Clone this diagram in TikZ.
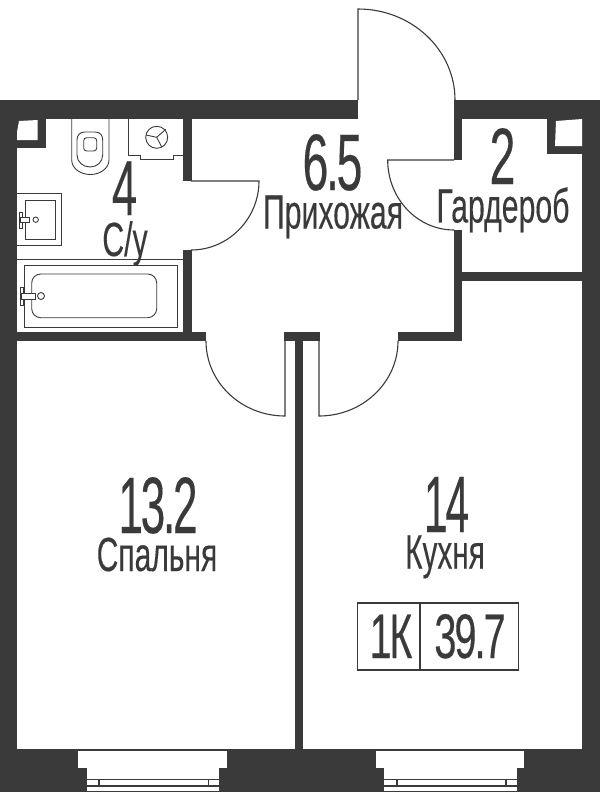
\documentclass[tikz,border=0pt]{standalone}
\usepackage{fontspec}
\setmainfont{Liberation Sans}
\newfontfamily\numfont[LetterSpace=-5,FakeBold=0.35]{Liberation Sans}
\newfontfamily\wordfont[FakeBold=0.25]{Liberation Sans}
\definecolor{wallc}{HTML}{3A3A3A}
\newcommand{\lbl}[3]{\scalebox{#1}[1]{\fontsize{#2}{#2}\selectfont\wordfont #3}}
\newcommand{\num}[3]{\scalebox{#1}[1]{\fontsize{#2}{#2}\selectfont\numfont #3}}
\tikzset{
  wall/.style={fill=wallc,draw=none},
  thin line/.style={draw=wallc,line width=1.1pt},
  fine line/.style={draw=wallc,line width=0.9pt},
  win line/.style={draw=wallc,line width=1.4pt},
  holew/.style={fill=white,draw=none},
  txt/.style={text=wallc,inner sep=0pt,anchor=base}
}
\begin{document}
\begin{tikzpicture}[x=1pt,y=-1pt]
\useasboundingbox (0,0) rectangle (600,800);
% walls
\fill[wall] (0,100) rectangle (358,119);
\fill[wall] (455,100) rectangle (600,119);
\fill[wall] (0,100) rectangle (17,792);
\fill[wall] (582,100) rectangle (600,792);
\fill[wall] (0,749) rectangle (600,792);
\fill[wall] (183,119) rectangle (191.5,181);
\fill[wall] (183,250) rectangle (191.5,341);
\fill[wall] (17,332) rectangle (206,340.5);
\fill[wall] (284,332) rectangle (320,340.5);
\fill[wall] (295,340) rectangle (303,749);
\fill[wall] (398,332) rectangle (462,340.5);
\fill[wall] (454,100) rectangle (462,160);
\fill[wall] (454,230) rectangle (462,340);
\fill[wall] (462,272) rectangle (582,281);
% shafts
\fill[wall] (17,119) rectangle (45.7,148);
\fill[holew] (19,121) -- (37.5,120) -- (37.5,140) -- (17,140) -- (17,132) -- cycle;
\fill[wall] (547.3,119) rectangle (582,154);
\fill[holew] (556,121) -- (582,119) -- (582,146) -- (555,146) -- cycle;
% doors
\draw[thin line] (358,100) -- (358,9) .. controls (411.6,9) and (455,49.7) .. (455,100);
\draw[thin line] (454,160) -- (387.7,160) .. controls (387.7,198.7) and (417.4,230) .. (454,230);
\draw[thin line] (191,181) -- (259,181) .. controls (259,218.6) and (228.6,250) .. (191,250);
\draw[thin line] (206,341) .. controls (206,382.4) and (241.4,416) .. (285,416) -- (285,341);
\draw[thin line] (319,341) -- (319,416) .. controls (362.6,416) and (398,382.4) .. (398,341);
% toilet
\draw[fine line] (71.7,119) -- (71.7,160) .. controls (71.7,168) and (80,174.5) .. (90.3,174.5) .. controls (100.6,174.5) and (109,168) .. (109,160) -- (109,119);
\draw[fine line] (77,140) .. controls (77,135) and (80,132) .. (85,132) -- (95,132) .. controls (100,132) and (102.7,135) .. (102.7,140) -- (102.7,155) .. controls (102.7,162) and (97,167) .. (90,167) .. controls (83,167) and (77,162) .. (77,155) -- cycle;
\draw[fine line,rounded corners=3pt] (83.7,137.7) rectangle (96.7,151);
% washer
\draw[fine line] (128.7,119) -- (128.7,155.7) -- (140.7,155.7) -- (140.7,159) -- (173,159) -- (173,155.7) -- (183,155.7);
\draw[fine line] (156.7,137.3) circle[radius=11];
\draw[fine line] (156.7,137.3) -- (146,135) (156.7,137.3) -- (165.7,129.3) (156.7,137.3) -- (161.7,146.9);
% sink
\draw[fine line] (17,193) -- (61,193) -- (61,245.7) -- (17,245.7);
\draw[fine line] (25.7,200) rectangle (55.7,239);
\draw[fine line,fill=white] (19,212) rectangle (22,228);
\draw[fine line,fill=white] (20,217) rectangle (29,222);
\draw[fine line] (35.7,219.7) circle[radius=2.7];
% bath
\draw[fine line] (17,259) -- (183,259);
\draw[fine line] (24,265.7) rectangle (177.3,327);
\draw[fine line,rounded corners=9pt] (31.7,274) rectangle (156.7,317.7);
\draw[fine line,fill=white] (20,287) rectangle (23,305);
\draw[fine line,fill=white] (21,293) rectangle (35,299);
\draw[fine line] (41,296) circle[radius=3.5];
% windows
\foreach \wx in {78.3,376}{
  \fill[holew] (\wx,750.7) rectangle (\wx+148.4,767.5);
  \fill[holew] (\wx+8.4,767) rectangle (\wx+140.6,791);
  \draw[win line] (\wx+8.4,779.6) -- (\wx+140.6,779.6);
  \draw[win line] (\wx+8.4,786) -- (\wx+140.6,786);
  \draw[win line] (\wx+20.8,779.6) -- (\wx+20.8,786);
  \draw[win line] (\wx+130,779.6) -- (\wx+130,786);
}
% labels
\node[txt] (n4) at (124.5,215) {\num{0.58}{78}{4}};
\node[txt] (su) at (125,256) {\lbl{0.63}{48}{С/у}};
\node[txt] (n65) at (332.5,190) {\num{0.58}{80}{6.5}};
\node[txt] (hall) at (333,228.5) {\lbl{0.63}{48}{Прихожая}};
\node[txt] (n2) at (502.5,184) {\num{0.58}{80}{2}};
\node[txt] (ward) at (503,222.5) {\lbl{0.63}{48}{Гардероб}};
\node[txt] (n132) at (158,533) {\num{0.55}{80}{13.2}};
\node[txt] (bed) at (157,571) {\lbl{0.625}{48}{Спальня}};
\node[txt] (n14) at (446.5,532) {\num{0.53}{80}{14}};
\node[txt] (kit) at (445,568.5) {\lbl{0.62}{48}{Кухня}};
% area box
\draw[thin line] (357.7,603) rectangle (518.3,670);
\draw[thin line] (420,603) -- (420,670);
\node[txt] (typ) at (391,658) {\num{0.62}{63}{1К}};
\node[txt] (area) at (470,658) {\num{0.63}{63}{39.7}};
\end{tikzpicture}
\end{document}
